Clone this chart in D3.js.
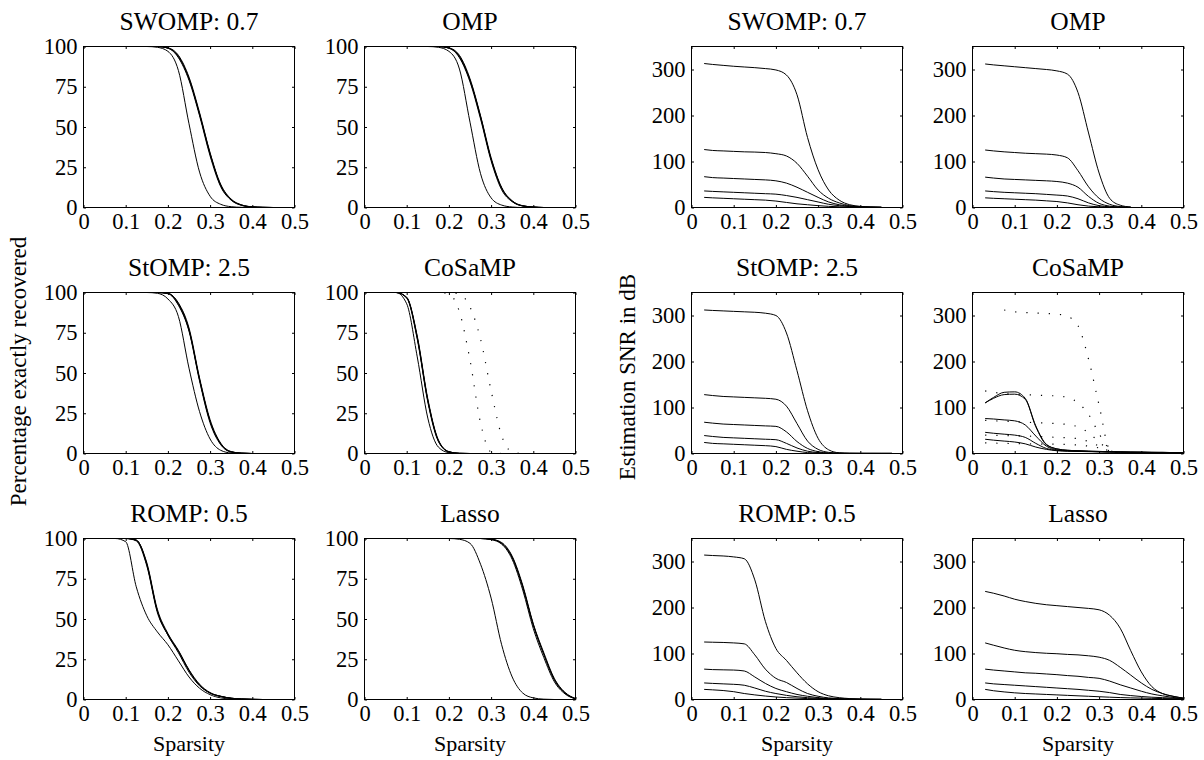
<!DOCTYPE html>
<html>
<head>
<meta charset="utf-8">
<script src="https://cdn.jsdelivr.net/npm/d3@7"></script>
<style>
  body { margin: 0; background: #fff; }
</style>
</head>
<body>
<div id="wrapper"></div>
<script>
// sparsity grid shared by every curve
const sparsity = [0.03, 0.05, 0.075, 0.1, 0.125, 0.15, 0.175, 0.2, 0.225, 0.25,
                  0.275, 0.3, 0.325, 0.35, 0.375, 0.4, 0.425, 0.45, 0.475, 0.5];

const titles = ["SWOMP: 0.7", "OMP", "StOMP: 2.5", "CoSaMP", "ROMP: 0.5", "Lasso"];
const xTicks = [0, 0.1, 0.2, 0.3, 0.4, 0.5];
const recTicks = [0, 25, 50, 75, 100];
const snrTicks = [0, 100, 200, 300];

// percentage exactly recovered (first curve = lowest SNR, the thin one)
const recSWOMP = [
  [100,100,100,100,100,100,99.5,97,85,52,22,7,2,0.5,0.1,0,0,0,0,0],
  [100,100,100,100,100,100,100,99,94,80,58,33,14,5,1.5,0.4,0.1,0,0,0],
  [100,100,100,100,100,100,100,99,93,79,57,32,13,4.5,1.3,0.3,0.1,0,0,0],
  [100,100,100,100,100,100,100,99.2,94.5,81,59,34,14.5,5.2,1.6,0.4,0.1,0,0,0],
  [100,100,100,100,100,100,100,99,93.5,80,58,33.5,13.5,4.8,1.4,0.4,0.1,0,0,0]
];
const recOMP = [
  [100,100,100,100,100,100,99.5,97,86,53,21,6,1.5,0.3,0,0,0,0,0,0],
  [100,100,100,100,100,100,100,99,94,79,56,30,12,4,1,0.3,0,0,0,0],
  [100,100,100,100,100,100,100,99,93,78,55,29,11,3.6,0.9,0.2,0,0,0,0],
  [100,100,100,100,100,100,100,99.2,94.5,80,57,31,12.5,4.2,1.1,0.3,0,0,0,0],
  [100,100,100,100,100,100,100,99,93.5,79,56.5,30,12,3.8,1,0.3,0,0,0,0]
];
const recStOMP = [
  [100,100,100,100,100,100,99.5,96,85,53,26,9,2,0.3,0,0,0,0,0,0],
  [100,100,100,100,100,100,100,99.5,93,77,46,20,6,1,0.2,0,0,0,0,0],
  [100,100,100,100,100,100,100,99.3,92,76,45,19,5.5,0.9,0.2,0,0,0,0,0],
  [100,100,100,100,100,100,100,99.5,93.5,78,47,21,6.5,1.2,0.2,0,0,0,0,0],
  [100,100,100,100,100,100,100,99.4,92.5,76.5,46,20,6,1,0.2,0,0,0,0,0]
];
const recCoSaMP = [
  [100,100,100,93,60,22,4,0.5,0,0,0,0,0,0,0,0,0,0,0,0],
  [100,100,100,97,72,33,8,1,0.1,0,0,0,0,0,0,0,0,0,0,0],
  [100,100,100,96.5,71,32,7.5,1,0.1,0,0,0,0,0,0,0,0,0,0,0],
  [100,100,100,97,73,34,8.5,1.2,0.1,0,0,0,0,0,0,0,0,0,0,0],
  [100,100,100,96.8,72,33,8,1,0.1,0,0,0,0,0,0,0,0,0,0,0]
];
const recCoSaMPDotted = [
  [100,100,100,100,100,100,100,99,88,58,19,1,0,0,0,0,0,0,0,0],
  [100,100,100,100,100,100,100,100,99,91,71,39,11,1,0,0,0,0,0,0]
];
const recROMP = [
  [100,100,100,98,70,52,42,34,24,14,7,3,1,0.3,0.1,0,0,0,0,0],
  [100,100,100,100,99,84,55,40,30,18,9,4,2,0.8,0.3,0.1,0,0,0,0],
  [100,100,100,100,98.5,83,54,40,29,17,8.5,4,1.8,0.7,0.3,0.1,0,0,0,0],
  [100,100,100,100,99,85,56,41,30.5,18.5,9.5,4.3,2,0.8,0.3,0.1,0,0,0,0],
  [100,100,100,100,99,84,55,40.5,30,18,9,4,2,0.8,0.3,0.1,0,0,0,0]
];
const recLasso = [
  [100,100,100,100,100,100,100,100,99.5,97,84,63,34,14,4,1,0.2,0,0,0],
  [100,100,100,100,100,100,100,100,100,100,100,99.5,97,88,70,46,28,12,4,0.5],
  [100,100,100,100,100,100,100,100,100,100,100,99.3,96.5,87,68,44,26,11,3.5,0.4],
  [100,100,100,100,100,100,100,100,100,100,100,99.6,97.5,89,71,47,29,13,4.5,0.6],
  [100,100,100,100,100,100,100,100,100,100,100,99.5,97,88.5,70,46.5,28,12.5,4,0.5]
];

// estimation SNR in dB
const snrSWOMP = [
  [313,311,309,307,305.5,304,302,299,288,245,152,82,38,16,6,2.5,1,0.5,null,null],
  [126,124,123,122,121,120.5,119.5,117,112,96,68,38,20,10,4,2,1,0.5,null,null],
  [67,65,64,63,62,61,60,58,53,44,33,22,12,6,3,1.5,0.8,0.4,null,null],
  [36,35,34,33,32,31,30,29,26,22,17,12,7,4,2,1,0.5,0.3,null,null],
  [22,21,20,19,18,17,16,14,11,8,6,4,2.5,1.5,1,0.5,0.3,0.2,null,null]
];
const snrOMP = [
  [312,310,308,306,304,302,300,297,290,250,162,75,20,5,1,null,null,null,null,null],
  [125,123,121,119.5,118,117,116,114,108,80,45,20,7,2,0.5,null,null,null,null,null],
  [66,64,62,61,60,59,58,56.5,53,44,24,9,3,1,0.3,null,null,null,null,null],
  [36,34.5,33,32,31,30,28.5,27,25,19,10,4,1.5,0.5,0.2,null,null,null,null,null],
  [21,20,19,18,17,16,14.5,13,10,6,3,1.5,0.5,0.3,0.2,null,null,null,null,null]
];
const snrStOMP = [
  [312,311,310,309,308,307,305,300,262,180,93,33,8,1.5,0.5,0.3,0.3,0.2,0.2,null],
  [128,126,124,123,122,121,120,118,103,65,27,9,2.5,0.8,0.4,0.3,0.2,0.2,0.2,null],
  [68,66,64,63,62,61,60,59,47,26,11,4,1,0.3,0.2,0.2,0.2,0.2,0.2,null],
  [39,37,35,34,33,32,31,30,22,12,5,2,0.5,0.3,0.2,0.2,0.2,0.2,0.2,null],
  [24,22,21,20,19,18,17,15,9,5,2,1,0.3,0.2,0.2,0.2,0.2,0.2,0.2,null]
];
const snrCoSaMP = [
  [110,122,133,134,120,60,20,10,7,6,5,4.5,4,3.5,3,3,2.5,2.5,2,2],
  [110,120,128,129,118,58,19,10,7,6,5,4.5,4,3.5,3,3,2.5,2.5,2,2],
  [76,75,73,71,62,38,16,8,6,5,4.5,4,3.5,3,3,2.5,2.5,2,2,1.5],
  [46,44,42,40,35,22,11,7,5.5,5,4.5,4,3.5,3,2.5,2.5,2,2,1.5,1.5],
  [31,29,27,25,21,14,9,6,5,4.5,4,3.5,3,3,2.5,2,2,1.5,1.5,1.5]
];
const snrCoSaMPDotted = [
  [null,null,312,308,306.5,305.5,304.5,303,298,278,205,105,9,1,null,null,null,null,null,null],
  [136,133,130,129,128,127,126,125,122,110,85,43,10,1,null,null,null,null,null,null],
  [72,71,70,69,68,67,66,65,63,58,45,25,7,1,null,null,null,null,null,null],
  [40,39.5,39,38.5,38,37,36,35,34,32,26,16,5,1,null,null,null,null,null,null],
  [23,22.5,22,21.5,21,20.5,20.5,20,19.5,18.5,16,12,6,1,null,null,null,null,null,null]
];
const snrROMP = [
  [314,313,312,310,306,260,170,111,85,58,34,17,8,4,2,1,0.7,0.5,null,null],
  [125,124.5,124,123,121,97,66,46,37,24,13,7,3.5,2,1,0.6,0.4,0.3,null,null],
  [66,65,64.5,64,62,49,35,24,17,11,7,4,2,1.2,0.8,0.5,0.3,0.2,null,null],
  [36,35,34,33,31,25,18,13,9,6,4,2.5,1.5,1,0.6,0.4,0.3,0.2,null,null],
  [22,21,19.5,17,13,10,7.5,5.5,4,3,2,1.5,1,0.7,0.5,0.3,0.2,0.2,null,null]
];
const snrLasso = [
  [235,231,225,218,213,209,206,204,202,200,198,195,183,155,106,60,28,13,7,3],
  [123,118,112,107,104,102,100.5,99.5,98,97,95,92,85,70,53,36,22,13,7,3],
  [66,64,62,60,58,57,55.5,54,52,50.5,48,46,40,32,25,18,12,8,4.5,2],
  [36,34,32.5,31,29.5,28,26.5,25,23.5,22,20,18,15,11,8.5,6.5,5,4,3,2],
  [22,19,16.5,14.5,13,12,11,10,9,8,7,6,5,4.2,3.5,3,2.5,2,1.8,1.5]
];

const W = 1204, H = 760;
const fontName = '"Liberation Serif"';
const tickFont = 22.5, titleFont = 25.5, labelFont = 22, yLabelFont = 23;
const tk = 2.5;           // inward tick length
const pw = 211, ph = 161; // plot box
const colX = [83.5, 364.5, 691.5, 972.5];
const rowY = [46.5, 292.5, 538.5];

const svg = d3.select('#wrapper').append('svg')
  .attr('width', W)
  .attr('height', H)
  .attr('viewBox', [0, 0, W, H])
  .style('display', 'block')
  .style('background', '#fff')
  .style('font-family', fontName);

const line = (x, y) => d3.line()
  .defined(d => d[1] != null)
  .x(d => x(d[0]))
  .y(d => y(d[1]))
  .curve(d3.curveMonotoneX);

function label(g, txt, size) {
  return g.append('text')
    .style('font-family', fontName)
    .style('font-size', size + 'px')
    .text(txt);
}

function drawPanel(px, py, title, yMax, yTicks, solid, dotted, bottomRow) {
  const g = svg.append('g').attr('transform', `translate(${px},${py})`);
  const x = d3.scaleLinear().domain([0, 0.5]).range([0, pw]);
  const y = d3.scaleLinear().domain([0, yMax]).range([ph, 0]);
  const ln = line(x, y);

  solid.forEach(s => {
    g.append('path')
      .attr('d', ln(sparsity.map((v, i) => [v, s[i]])))
      .attr('fill', 'none')
      .attr('stroke', '#000')
      .attr('stroke-width', 1);
  });
  dotted.forEach(s => {
    g.append('path')
      .attr('d', ln(sparsity.map((v, i) => [v, s[i]])))
      .attr('fill', 'none')
      .attr('stroke', '#000')
      .attr('stroke-width', 1.2)
      .attr('stroke-dasharray', '1.2,10');
  });

  // axes: ticks inward on all four sides, labels on left and bottom
  const ax = (axis, tr) => {
    const a = g.append('g').attr('transform', tr).call(axis);
    a.select('.domain').remove();
    a.attr('font-family', null).attr('font-size', null);
    a.selectAll('line').attr('stroke', '#000');
    a.selectAll('text').attr('fill', '#000')
      .style('font-family', fontName)
      .style('font-size', tickFont + 'px');
    return a;
  };
  ax(d3.axisBottom(x).tickValues(xTicks).tickSize(-tk).tickPadding(6).tickFormat(d => String(d)),
     `translate(0,${ph})`);
  ax(d3.axisTop(x).tickValues(xTicks).tickSize(-tk).tickFormat(''), 'translate(0,0)');
  ax(d3.axisLeft(y).tickValues(yTicks).tickSize(-tk).tickPadding(6).tickFormat(d => String(d)),
     'translate(0,0)');
  ax(d3.axisRight(y).tickValues(yTicks).tickSize(-tk).tickFormat(''), `translate(${pw},0)`);

  g.append('rect')
    .attr('width', pw)
    .attr('height', ph)
    .attr('fill', 'none')
    .attr('stroke', '#000')
    .attr('stroke-width', 1);

  label(g, title, titleFont)
    .attr('x', pw / 2)
    .attr('y', -16.5)
    .attr('text-anchor', 'middle');

  if (bottomRow) {
    label(g, 'Sparsity', labelFont)
      .attr('x', pw / 2)
      .attr('y', 751 - py)
      .attr('text-anchor', 'middle');
  }
}

const recData = [recSWOMP, recOMP, recStOMP, recCoSaMP, recROMP, recLasso];
const snrData = [snrSWOMP, snrOMP, snrStOMP, snrCoSaMP, snrROMP, snrLasso];

titles.forEach((t, i) => {
  const r = Math.floor(i / 2), c = i % 2;
  drawPanel(colX[c], rowY[r], t, 100, recTicks, recData[i],
            t === 'CoSaMP' ? recCoSaMPDotted : [], r === 2);
  drawPanel(colX[c + 2], rowY[r], t, 350, snrTicks, snrData[i],
            t === 'CoSaMP' ? snrCoSaMPDotted : [], r === 2);
});

// y axis labels
label(svg, 'Percentage exactly recovered', yLabelFont)
  .attr('transform', 'translate(26,371.5) rotate(-90)')
  .attr('text-anchor', 'middle');
label(svg, 'Estimation SNR in dB', yLabelFont)
  .attr('transform', 'translate(634.5,377) rotate(-90)')
  .attr('text-anchor', 'middle');
</script>
</body>
</html>
